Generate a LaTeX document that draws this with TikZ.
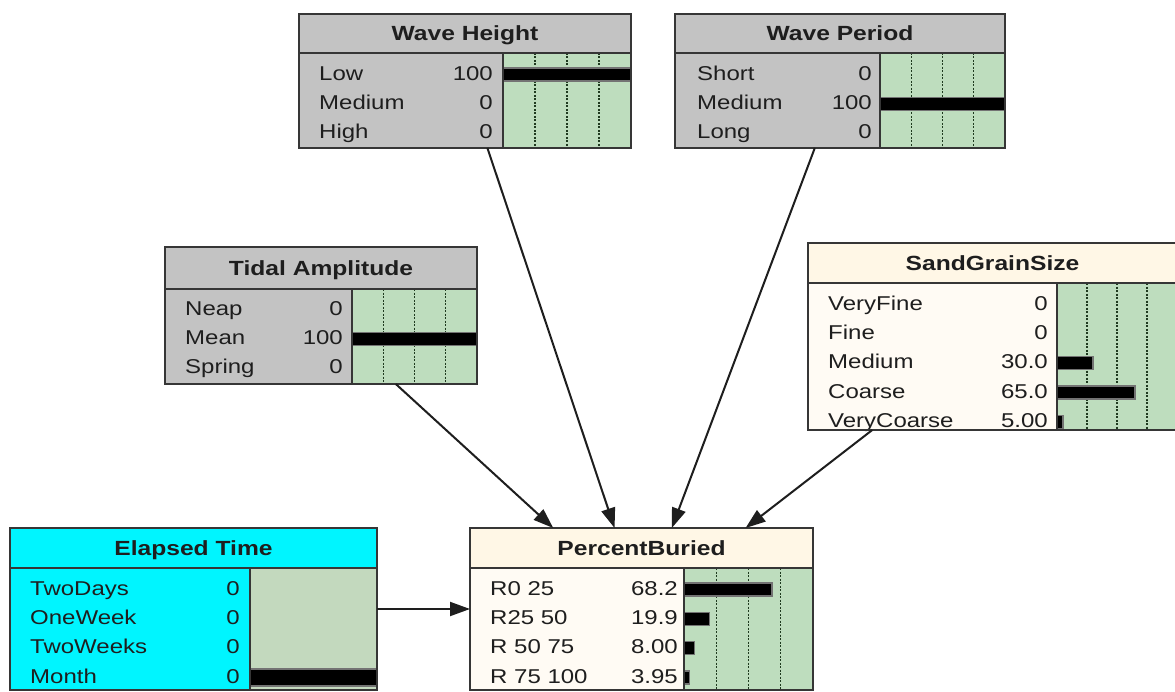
\documentclass[tikz,border=0pt]{standalone}
\usepackage{fontspec}
\setmainfont{Liberation Sans}[FakeStretch=1.2]
\usetikzlibrary{arrows.meta}

% palettes: <name>title, <name>body, <name>chart
\definecolor{graytitle}{HTML}{C3C3C3}
\definecolor{graybody}{HTML}{C3C3C3}
\definecolor{graychart}{HTML}{BEDDBE}
\definecolor{creamtitle}{HTML}{FFF7E6}
\definecolor{creambody}{HTML}{FFFBF4}
\definecolor{creamchart}{HTML}{BEDDBE}
\definecolor{cyantitle}{HTML}{00F5FF}
\definecolor{cyanbody}{HTML}{00F5FF}
\definecolor{cyanchart}{HTML}{C3D9BE}
\definecolor{edge}{HTML}{363636}
\definecolor{ink}{HTML}{1E1E1E}
\definecolor{gridline}{HTML}{1F3A1F}

\tikzset{
  netbox/.style={rectangle, draw=none, inner sep=0pt, outer sep=0pt},
  frame/.style={draw=edge, line width=2.4bp},
  chartedge/.style={draw=edge, line width=1.2bp},
  quarter/.style={draw=gridline, line width=1.4bp, dash pattern=on 2bp off 1.5bp},
  bar/.style={fill=black, draw=black!55, line width=1.2bp},
  ttl/.style={font=\bfseries\fontsize{20.5bp}{22bp}\selectfont, text=ink, inner sep=0pt, anchor=base},
  lbl/.style={font=\fontsize{20bp}{22bp}\selectfont, text=ink, inner sep=0pt, anchor=base west},
  val/.style={font=\fontsize{20bp}{22bp}\selectfont, text=ink, inner sep=0pt, anchor=base east},
  link/.style={draw=ink, line width=2bp, -{Triangle[length=20bp,width=14bp]}},
}

% #1 name, #2 left, #3 top, #4 right, #5 bottom, #6 title bottom, #7 chart left, #8 palette, #9 title
\newcommand\bnbox[9]{%
  \pgfmathsetmacro\bw{#4-#2}%
  \pgfmathsetmacro\bh{#5-#3}%
  \node[netbox, minimum width=\bw bp, minimum height=\bh bp] (#1) at ({(#2+#4)/2},{(#3+#5)/2}) {};
  \fill[#8body] (#2,#6) rectangle (#7,#5);
  \fill[#8title] (#2,#3) rectangle (#4,#6);
  \fill[#8chart] (#7,#6) rectangle (#4,#5);
  \node[ttl] at ({(#2+#4)/2},{(#3+#6)/2+7.3}) {#9};
}

% dotted quarter marks: #1 chart left, #2 chart right, #3 top, #4 bottom
\newcommand\bnquarters[4]{%
  \foreach \k in {1,2,3}
    \draw[quarter] ({#1+(#2-#1)*\k/4},#3) -- ({#1+(#2-#1)*\k/4},#4);
}

\def\barlo{-5}
\def\barhi{8}
% states: #1 label x, #2 value right, #3 chart left, #4 chart right, #5 first row y, #6 list label/value/percent
\newcommand\bnrows[6]{%
  \foreach \lab/\v/\p [count=\i from 0] in {#6} {
    \pgfmathsetmacro\ry{#5+29.3*\i}
    \node[lbl] at (#1,\ry+7.2) {\lab};
    \node[val] at (#2,\ry+7.2) {\v};
    \ifdim \p pt>0pt
      \fill[bar] (#3,\ry+\barlo) rectangle ({#3+(#4-#3)*\p/100},\ry+\barhi);
    \fi
  }
}

% outline: #1 left, #2 top, #3 right, #4 bottom, #5 title bottom, #6 chart left
\newcommand\bnframe[6]{%
  \draw[chartedge] (#6,#5) -- (#6,#4);
  \draw[frame] (#1,#5) -- (#3,#5);
  \draw[frame] (#1,#2) rectangle (#3,#4);
}

\begin{document}
\begin{tikzpicture}[x=1bp, y=-1bp]
\clip (0,0) rectangle (1175,692);
\fill[white] (0,0) rectangle (1175,692);

% Wave Height
\bnbox{wh}{299}{14}{631}{148}{53}{503}{gray}{Wave Height}
\bnquarters{503}{631}{53}{148}
\bnrows{319}{493}{503}{631}{73}{Low/100/100, Medium/0/0, High/0/0}
\bnframe{299}{14}{631}{148}{53}{503}

% Wave Period
\bnbox{wp}{675}{14}{1005}{148}{53}{880}{gray}{Wave Period}
\bnquarters{880}{1005}{53}{148}
\bnrows{697}{872}{880}{1005}{73}{Short/0/0, Medium/100/100, Long/0/0}
\bnframe{675}{14}{1005}{148}{53}{880}

% Tidal Amplitude
\bnbox{ta}{165}{247}{477}{384}{289}{352}{gray}{Tidal Amplitude}
\bnquarters{352}{477}{289}{384}
\bnrows{185}{343}{352}{477}{308}{Neap/0/0, Mean/100/100, Spring/0/0}
\bnframe{165}{247}{477}{384}{289}{352}

% SandGrainSize
\bnbox{sg}{808}{243}{1177}{430}{283}{1057}{cream}{SandGrainSize}
\bnquarters{1057}{1177}{283}{430}
\bnrows{828}{1048}{1057}{1177}{303}{VeryFine/0/0, Fine/0/0, Medium/30.0/30, Coarse/65.0/65, VeryCoarse/5.00/5}
\bnframe{808}{243}{1177}{430}{283}{1057}

% Elapsed Time
\bnbox{et}{10}{528}{377}{690}{568}{250}{cyan}{Elapsed Time}
\def\barlo{-7}\def\barhi{10}
\bnrows{30}{240}{250}{377}{588}{TwoDays/0/0, OneWeek/0/0, TwoWeeks/0/0, Month/0/100}
\def\barlo{-5}\def\barhi{8}
\bnframe{10}{528}{377}{690}{568}{250}

% PercentBuried
\bnbox{pb}{470}{528}{813}{690}{568}{684}{cream}{PercentBuried}
\bnquarters{684}{813}{568}{690}
\bnrows{490}{678}{684}{813}{588}{R0 25/68.2/68.2, R25 50/19.9/19.9, R 50 75/8.00/8, R 75 100/3.95/3.95}
\bnframe{470}{528}{813}{690}{568}{684}

% dependencies
\draw[link] (wh) -- (pb);
\draw[link] (wp) -- (pb);
\draw[link] (ta) -- (pb);
\draw[link] (sg) -- (pb);
\draw[link] (et) -- (pb);
\end{tikzpicture}
\end{document}
